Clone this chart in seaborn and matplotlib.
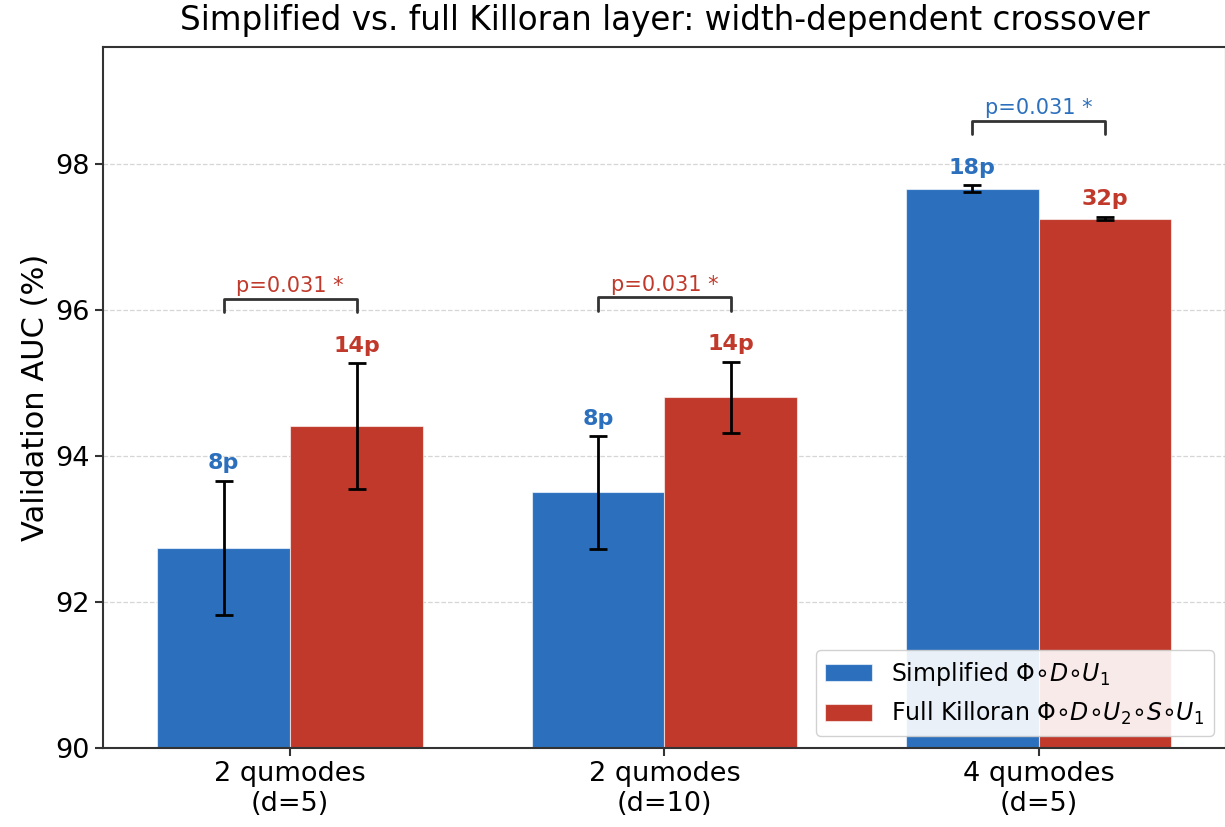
import matplotlib
matplotlib.use("Agg")
import matplotlib.pyplot as plt
import seaborn as sns
import pandas as pd
import numpy as np

# ---- data ----
configs = ["2 qumodes\n(d=5)", "2 qumodes\n(d=10)", "4 qumodes\n(d=5)"]
models = [r"Simplified $\Phi{\circ}D{\circ}U_1$",
          r"Full Killoran $\Phi{\circ}D{\circ}U_2{\circ}S{\circ}U_1$"]
simplified_auc = [92.74, 93.50, 97.66]
simplified_err = [0.92, 0.77, 0.05]
full_auc = [94.41, 94.80, 97.25]
full_err = [0.86, 0.49, 0.025]
simplified_params = ["8p", "8p", "18p"]
full_params = ["14p", "14p", "32p"]
p_values = ["p=0.031 *", "p=0.031 *", "p=0.031 *"]

blue = "#2c70bd"
red = "#c0392b"

df = pd.DataFrame({
    "config": configs * 2,
    "model": [models[0]] * 3 + [models[1]] * 3,
    "auc": simplified_auc + full_auc,
})

sns.set_style("white")
plt.rcParams["font.family"] = ["DejaVu Sans"]
plt.rcParams["text.color"] = "black"
plt.rcParams["axes.labelcolor"] = "black"
plt.rcParams["xtick.color"] = "black"
plt.rcParams["ytick.color"] = "black"

fig = plt.figure(figsize=(12.25, 8.27), dpi=100)
ax = fig.add_axes([0.0841, 0.0955, 0.9165, 0.8477])

sns.barplot(data=df, x="config", y="auc", hue="model", order=configs,
            hue_order=models, palette=[blue, red], width=0.71, saturation=1,
            errorbar=None, edgecolor=(1, 1, 1, 0.6), linewidth=0.8, ax=ax,
            zorder=2)

errs = [simplified_err, full_err]
labels = [simplified_params, full_params]
cols = [blue, red]
centers = [[], []]
tops = [[], []]
for k, cont in enumerate(ax.containers[:2]):
    for i, bar in enumerate(cont):
        xc = bar.get_x() + bar.get_width() / 2
        h = bar.get_height()
        centers[k].append(xc)
        tops[k].append(h + errs[k][i])
        ax.errorbar(xc, h, yerr=errs[k][i], fmt="none", ecolor="black",
                    elinewidth=2, capsize=6.5, capthick=2, zorder=3)
        ax.text(xc, h + errs[k][i] + 0.1, labels[k][i], ha="center",
                va="bottom", color=cols[k], fontsize=16, fontweight="bold",
                zorder=4)

# significance brackets
for i in range(3):
    x1, x2 = centers[0][i], centers[1][i]
    base = max(tops[0][i], tops[1][i]) + 0.7
    top = base + 0.18
    ax.plot([x1, x1, x2, x2], [base, top, top, base], color="#333333",
            lw=2, zorder=4)
    winner = red if full_auc[i] > simplified_auc[i] else blue
    ax.text((x1 + x2) / 2, top + 0.04, p_values[i], ha="center",
            va="bottom", color=winner, fontsize=15, zorder=4)

ax.set_ylim(90, 99.6)
ax.set_xlim(-0.5, 2.5)
ax.set_yticks([90, 92, 94, 96, 98])
ax.yaxis.grid(True, linestyle="--", color="#cccccc", linewidth=0.9, alpha=0.8)
ax.set_axisbelow(True)
ax.set_xlabel("")
ax.set_ylabel("Validation AUC (%)", fontsize=22)
ax.set_title("Simplified vs. full Killoran layer: width-dependent crossover",
             fontsize=23.5, pad=12)
ax.tick_params(axis="both", labelsize=19.5, length=6, width=1.5,
               color="#333333", left=True, bottom=True)
for s in ax.spines.values():
    s.set_color("#333333")
    s.set_linewidth(1.5)

leg = ax.legend(loc="lower right", fontsize=17, frameon=True,
                framealpha=0.9, edgecolor="#cccccc", fancybox=True)

fig.savefig("out.png", dpi=100)
